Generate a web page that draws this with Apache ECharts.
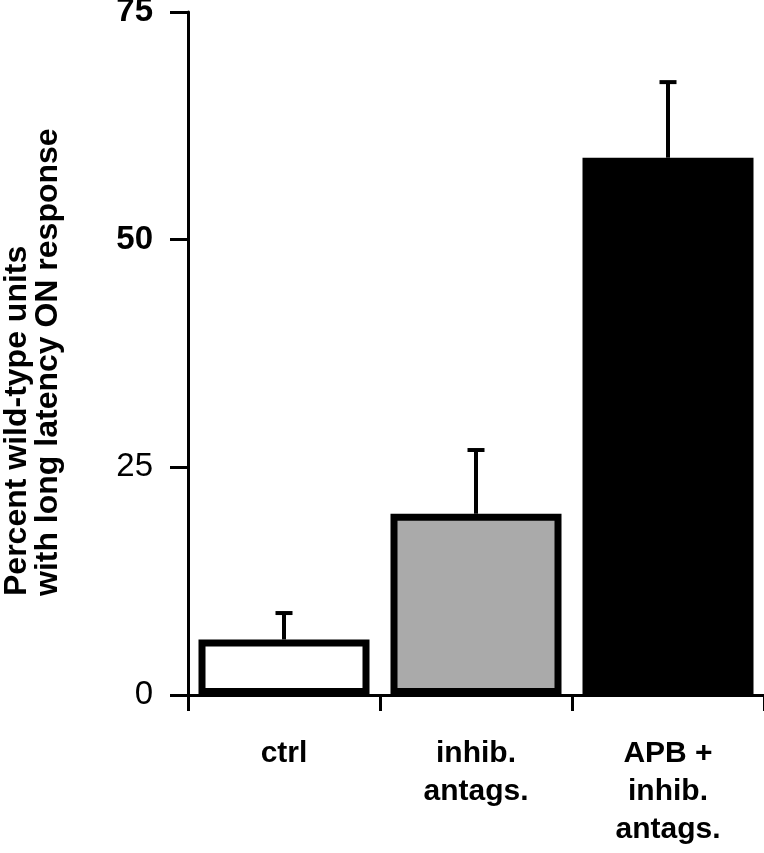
<!DOCTYPE html>
<html>
<head>
<meta charset="utf-8">
<script src="https://cdn.jsdelivr.net/npm/echarts@6/dist/echarts.min.js"></script>
<style>
  html, body { margin: 0; padding: 0; background: #ffffff; }
  #chart { width: 764px; height: 853px; }
</style>
</head>
<body>
<div id="chart"></div>
<script>
// ---- data ----
const categories = ['ctrl', 'inhib.\nantags.', 'APB +\ninhib.\nantags.'];
const values = [6.1, 19.9, 59.0];
const sem = [2.9, 7.0, 8.3];
const barColors = ['#ffffff', '#aaaaaa', '#000000'];
const yMin = 0, yMax = 75, yStep = 25;
const yTitle = 'Percent wild-type units\nwith long latency ON response';

const FONT = "'Liberation Sans', Arial, Helvetica, sans-serif";

const chart = echarts.init(document.getElementById('chart'), null, { renderer: 'canvas' });

const option = {
  animation: false,
  backgroundColor: '#ffffff',
  grid: { left: 188, right: 0, top: 12, bottom: 158, containLabel: false, outerBoundsMode: 'none' },
  xAxis: {
    type: 'category',
    data: categories,
    axisLine: { show: true, lineStyle: { color: '#000', width: 3 } },
    axisTick: { show: true, alignWithLabel: false, interval: 0, length: 16, lineStyle: { color: '#000', width: 3 } },
    axisLabel: {
      interval: 0, margin: 40, color: '#000',
      fontFamily: FONT, fontWeight: 'bold', fontSize: 30, lineHeight: 38
    },
    splitLine: { show: false }
  },
  yAxis: {
    type: 'value',
    min: yMin, max: yMax, interval: yStep,
    axisLine: { show: true, lineStyle: { color: '#000', width: 3 } },
    axisTick: { show: true, length: 18, lineStyle: { color: '#000', width: 3 } },
    axisLabel: {
      margin: 35, color: '#000',
      formatter: function (v) { return (v >= 50 ? '{b|' : '{n|') + v + '}'; },
      rich: {
        b: { fontFamily: FONT, fontWeight: 'bold', fontSize: 33, color: '#000' },
        n: { fontFamily: FONT, fontWeight: 'normal', fontSize: 33, color: '#000' }
      }
    },
    splitLine: { show: false }
  },
  graphic: [{
    type: 'text',
    x: 33, y: 596,
    rotation: Math.PI / 2,
    style: {
      text: yTitle,
      font: 'bold 32px ' + FONT,
      fill: '#000',
      textAlign: 'left',
      textVerticalAlign: 'middle',
      lineHeight: 31
    }
  }],
  series: [
    {
      type: 'bar',
      barWidth: 171,
      data: values.map(function (v, i) {
        return { value: v, itemStyle: { color: barColors[i], borderColor: '#000', borderWidth: 7 } };
      }),
      z: 2
    },
    {
      type: 'custom',
      z: 3,
      data: values.map(function (v, i) { return [i, v, sem[i]]; }),
      renderItem: function (params, api) {
        const x = api.value(0), v = api.value(1), e = api.value(2);
        const base = api.coord([x, v]);
        const top = api.coord([x, v + e]);
        return {
          type: 'group',
          children: [
            { type: 'line', shape: { x1: base[0], y1: base[1], x2: base[0], y2: top[1] }, style: { stroke: '#000', lineWidth: 4 } },
            { type: 'line', shape: { x1: base[0] - 8.5, y1: top[1], x2: base[0] + 8.5, y2: top[1] }, style: { stroke: '#000', lineWidth: 4 } }
          ]
        };
      }
    }
  ]
};

chart.setOption(option);
</script>
</body>
</html>
